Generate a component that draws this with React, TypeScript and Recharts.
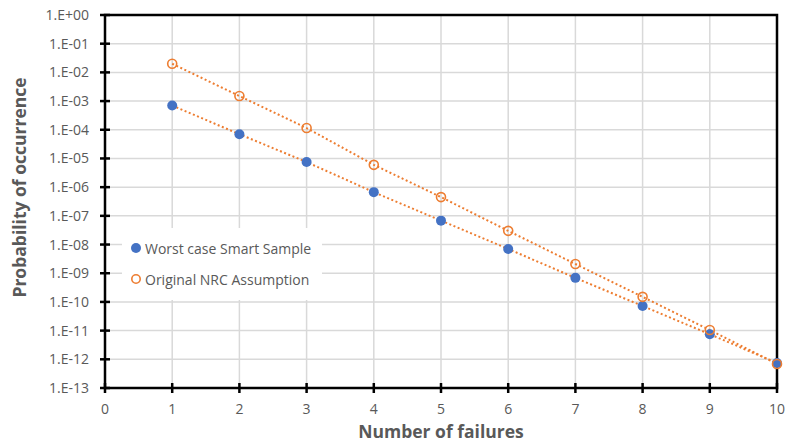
import React from "react";
import {
  ComposedChart,
  Line,
  XAxis,
  YAxis,
  CartesianGrid,
  ReferenceArea,
  Legend,
} from "recharts";

const failures = [1, 2, 3, 4, 5, 6, 7, 8, 9, 10];
const worstCase = [7e-4, 7e-5, 7.5e-6, 6.7e-7, 6.8e-8, 7e-9, 6.9e-10, 7.2e-11, 7.5e-12, 7.4e-13];
const originalNRC = [2e-2, 1.5e-3, 1.15e-4, 6e-6, 4.5e-7, 3e-8, 2.1e-9, 1.5e-10, 1.05e-11, 6.9e-13];

const xTicks = [0, 1, 2, 3, 4, 5, 6, 7, 8, 9, 10];
const yTicks = [1, 1e-1, 1e-2, 1e-3, 1e-4, 1e-5, 1e-6, 1e-7, 1e-8, 1e-9, 1e-10, 1e-11, 1e-12, 1e-13];
const yTickLabels = [
  "1.E+00", "1.E-01", "1.E-02", "1.E-03", "1.E-04", "1.E-05", "1.E-06",
  "1.E-07", "1.E-08", "1.E-09", "1.E-10", "1.E-11", "1.E-12", "1.E-13",
];

const seriesNames = ["Worst case Smart Sample", "Original NRC Assumption"];

const data = failures.map((f, i) => ({ x: f, worst: worstCase[i], nrc: originalNRC[i] }));

const BLUE = "#4472C4";
const ORANGE = "#ED7D31";
const GRAY = "#595959";
const FONT = "'Open Sans', sans-serif";

const XTick = (props: any) => {
  const { x, y, payload } = props;
  return (
    <g>
      <line x1={x} x2={x} y1={y - 5} y2={y + 5} stroke="#000" strokeWidth={2.5} />
      <text x={x} y={y + 26} textAnchor="middle" fill={GRAY} fontSize={14} fontFamily={FONT}>
        {payload.value}
      </text>
    </g>
  );
};

const YTick = (props: any) => {
  const { x, y, payload } = props;
  const idx = yTicks.findIndex((t) => Math.abs(Math.log10(t) - Math.log10(payload.value)) < 1e-6);
  return (
    <g>
      <line x1={x - 5} x2={x + 5} y1={y} y2={y} stroke="#000" strokeWidth={2.5} />
      <text x={x - 16} y={y + 5} textAnchor="end" fill={GRAY} fontSize={14} fontFamily={FONT}>
        {idx >= 0 ? yTickLabels[idx] : ""}
      </text>
    </g>
  );
};

const BlueDot = (props: any) => {
  const { cx, cy } = props;
  if (cx == null || cy == null) return null;
  return <circle cx={cx} cy={cy} r={5} fill={BLUE} stroke="none" />;
};

const OrangeDot = (props: any) => {
  const { cx, cy } = props;
  if (cx == null || cy == null) return null;
  return <circle cx={cx} cy={cy} r={4.5} fill="none" stroke={ORANGE} strokeWidth={1.6} />;
};

const LegendContent = () => (
  <div
    style={{
      background: "#fff",
      width: 200,
      height: 72,
      boxSizing: "border-box",
      paddingTop: 9,
      paddingLeft: 8,
      fontFamily: FONT,
      fontSize: 14,
      color: GRAY,
      textAlign: "left",
      whiteSpace: "nowrap",
    }}
  >
    <div style={{ display: "flex", alignItems: "center", height: 22 }}>
      <svg width={12} height={12} style={{ marginRight: 3 }}>
        <circle cx={6} cy={6} r={5} fill={BLUE} />
      </svg>
      <span>{seriesNames[0]}</span>
    </div>
    <div style={{ display: "flex", alignItems: "center", height: 22, marginTop: 9 }}>
      <svg width={12} height={12} style={{ marginRight: 3 }}>
        <circle cx={6} cy={6} r={4.2} fill="none" stroke={ORANGE} strokeWidth={1.6} />
      </svg>
      <span>{seriesNames[1]}</span>
    </div>
  </div>
);

export default function App() {
  return (
    <div style={{ width: 788, height: 442, position: "absolute", left: 0, top: 0, overflow: "hidden" }}>
      <ComposedChart
        width={788}
        height={442}
        data={data}
        margin={{ top: 15, right: 11, bottom: 0, left: 0 }}
      >
        <CartesianGrid stroke="#d9d9d9" strokeWidth={1.5} horizontalValues={yTicks} verticalValues={xTicks} />
        <XAxis
          dataKey="x"
          type="number"
          domain={[0, 10]}
          ticks={xTicks}
          interval={0}
          height={54}
          axisLine={false}
          tickLine={false}
          tickSize={0}
          tickMargin={0}
          tick={<XTick />}
          label={{
            value: "Number of failures",
            position: "insideBottom",
            offset: 4,
            fill: GRAY,
            fontSize: 17.5,
            fontWeight: "bold",
            fontFamily: FONT,
          }}
        />
        <YAxis
          type="number"
          scale="log"
          domain={[1e-13, 1]}
          ticks={yTicks}
          interval={0}
          allowDataOverflow
          width={105}
          axisLine={false}
          tickLine={false}
          tickSize={0}
          tickMargin={0}
          tick={<YTick />}
          label={{
            value: "Probability of occurrence",
            angle: -90,
            position: "insideLeft",
            offset: 20,
            fill: GRAY,
            fontSize: 17.5,
            fontWeight: "bold",
            fontFamily: FONT,
            style: { textAnchor: "middle" },
            dy: -14,
          }}
        />
        <ReferenceArea
          x1={0}
          x2={10}
          y1={1e-13}
          y2={1}
          fill="none"
          stroke="#000"
          strokeWidth={2.5}
          ifOverflow="visible"
        />
        <Legend
          layout="horizontal"
          verticalAlign="middle"
          align="center"
          content={<LegendContent />}
          wrapperStyle={{ left: 122, top: 228, width: 200, height: 72 }}
        />
        <Line
          dataKey="worst"
          name={seriesNames[0]}
          stroke={ORANGE}
          strokeWidth={2}
          strokeDasharray="2 2.5"
          dot={<BlueDot />}
          activeDot={false}
          isAnimationActive={false}
        />
        <Line
          dataKey="nrc"
          name={seriesNames[1]}
          stroke={ORANGE}
          strokeWidth={2}
          strokeDasharray="2 2.5"
          dot={<OrangeDot />}
          activeDot={false}
          isAnimationActive={false}
        />
      </ComposedChart>
    </div>
  );
}
